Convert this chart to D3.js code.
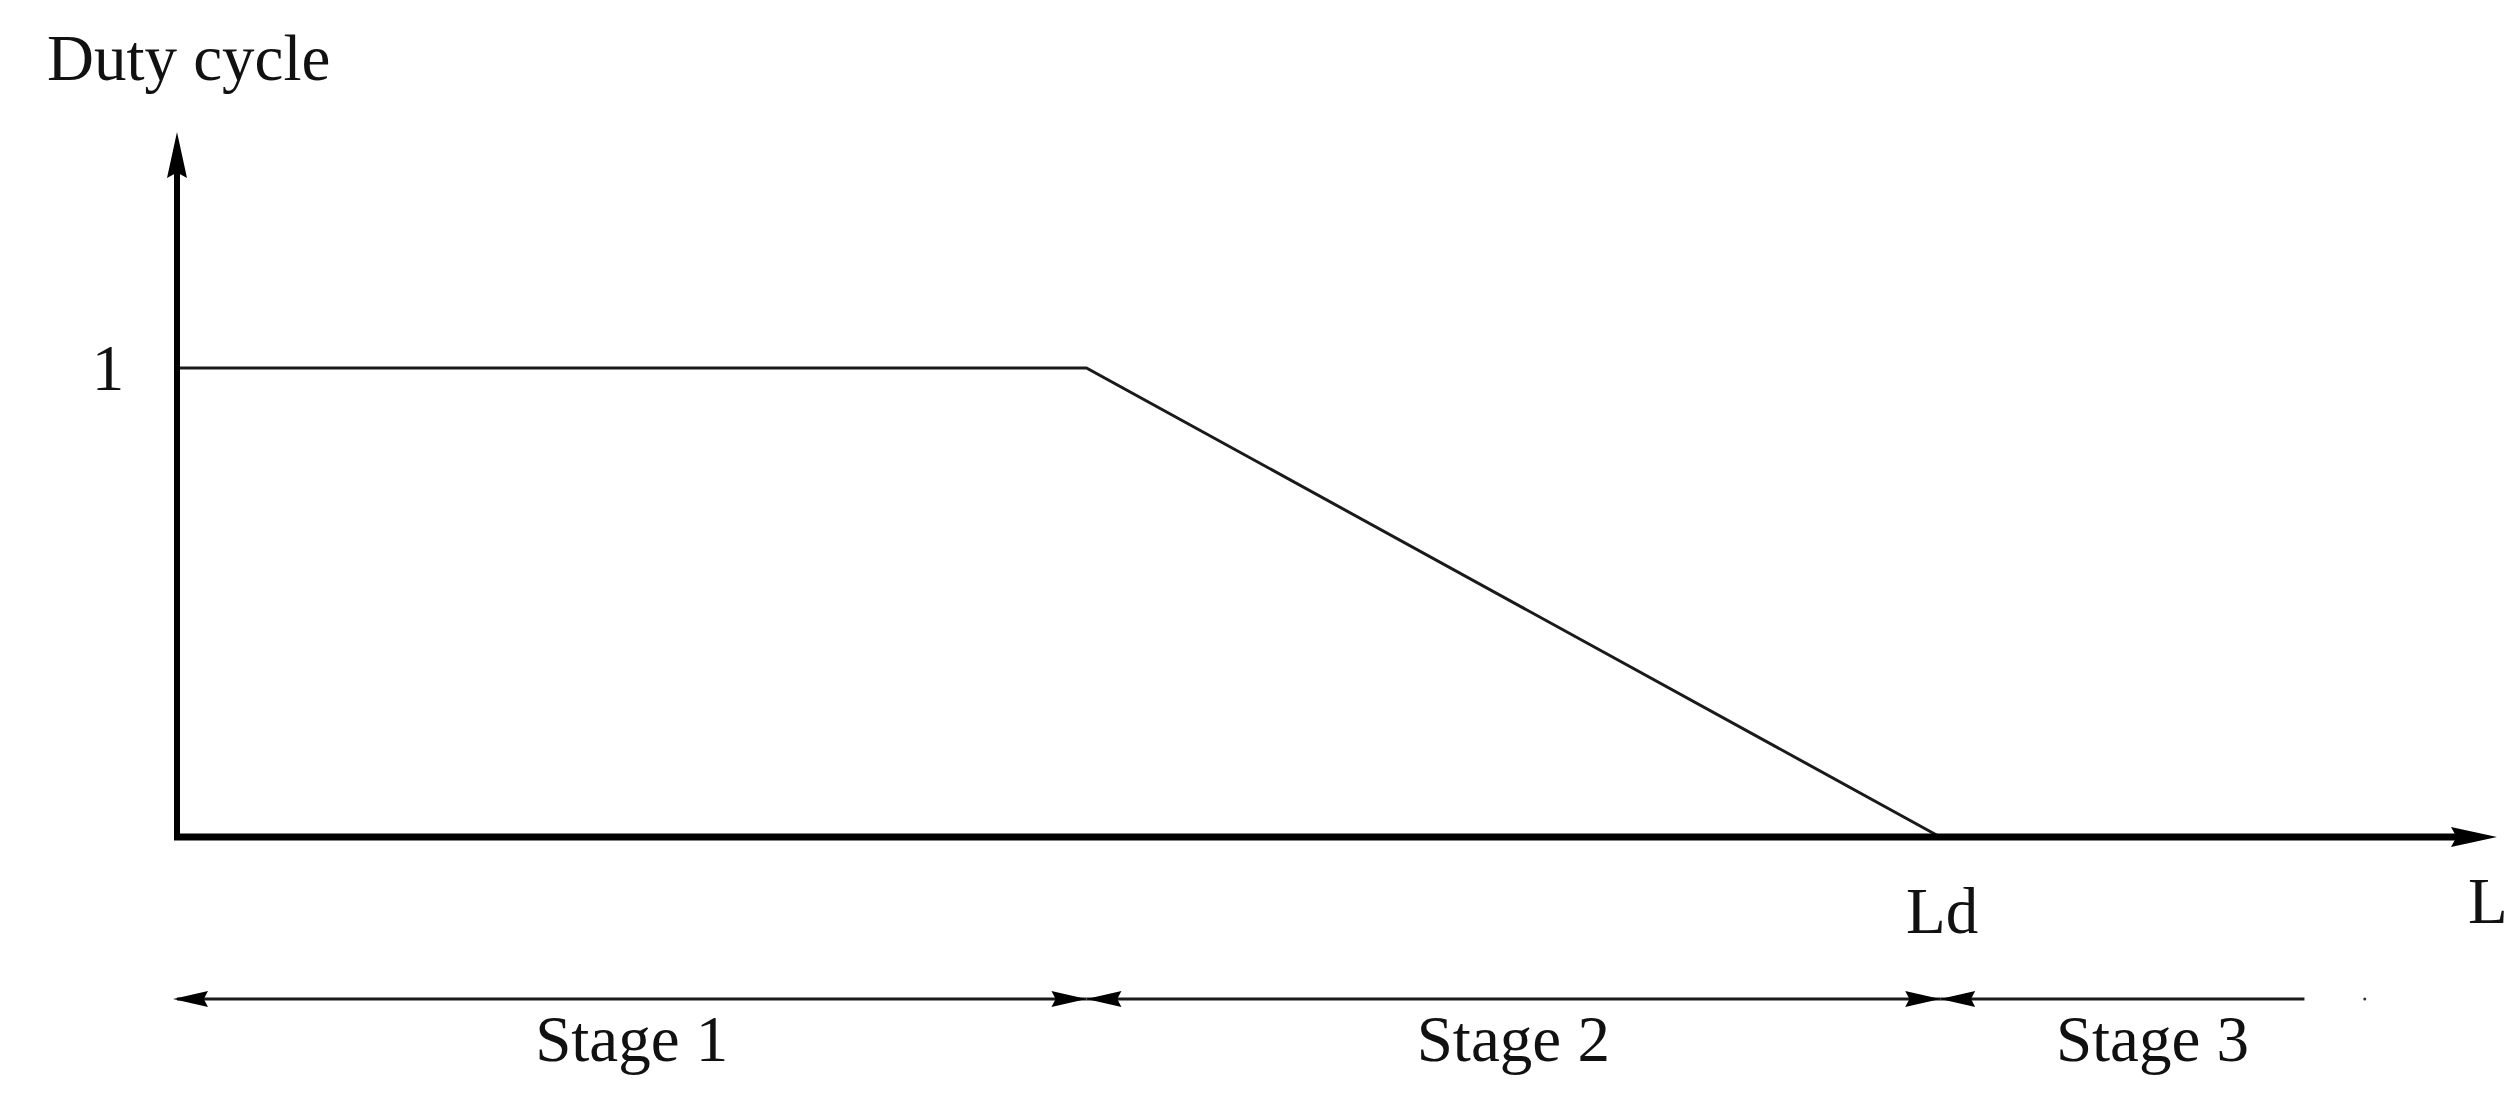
<!DOCTYPE html>
<html>
<head>
<meta charset="utf-8">
<script src="https://cdn.jsdelivr.net/npm/d3@7"></script>
<style>
  html, body { margin: 0; padding: 0; background: #fff; }
  svg { display: block; }
  text { font-family: "Liberation Serif", "Times New Roman", serif; fill: #111; }
</style>
</head>
<body>
<script>
// ---- data (x in arbitrary length units, 0..100 along L axis) ----
const curveX = [0, 39.2, 76.0];          // duty-cycle breakpoints
const curveY = [1, 1, 0];                // duty cycle values
const xAxisMax = 100;
const yAxisMax = 1.503;
const yTickValues = [1];
const yTickLabels = ["1"];
const xMarkValues = [76.0];
const xMarkLabels = ["Ld"];
const stageBounds = [0, 39.2, 76.0, 94.3];
const stageLineEnds = [39.2, 76.0, 91.7];
const stageLabels = ["Stage 1", "Stage 2", "Stage 3"];
const yAxisTitle = "Duty cycle";
const xAxisTitle = "L";

const W = 2518, H = 1109;
const svg = d3.select("body").append("svg").attr("width", W).attr("height", H);

const x = d3.scaleLinear().domain([0, xAxisMax]).range([177, 2497]);
const y = d3.scaleLinear().domain([0, yAxisMax]).range([837, 132]);

const FONT = 65;

// curve
const pts = curveX.map((v, i) => [v, curveY[i]]);
svg.append("path")
  .datum(pts)
  .attr("fill", "none")
  .attr("stroke", "#1a1a1a")
  .attr("stroke-width", 3)
  .attr("d", d3.line().x(d => x(d[0])).y(d => y(d[1])));

// helper: arrowhead polygon with tip at (tx,ty) pointing in direction (dx,dy)
function arrow(tx, ty, dx, dy, len, half) {
  const bx = tx - dx * len, by = ty - dy * len;
  const px = -dy, py = dx;
  const notch = 0.12 * len;
  const nx = tx - dx * (len - notch), ny = ty - dy * (len - notch);
  return [[tx, ty], [bx + px * half, by + py * half], [nx, ny], [bx - px * half, by - py * half]]
    .map(p => p.join(",")).join(" ");
}

// axes
const axisG = svg.append("g");
axisG.append("line")
  .attr("x1", x(0)).attr("y1", y(0))
  .attr("x2", x(0)).attr("y2", y(yAxisMax) + 30)
  .attr("stroke", "#000").attr("stroke-width", 6);
axisG.append("polygon")
  .attr("points", arrow(x(0), y(yAxisMax), 0, -1, 46, 10))
  .attr("fill", "#000");
axisG.append("line")
  .attr("x1", x(0) - 3).attr("y1", y(0))
  .attr("x2", x(xAxisMax) - 30).attr("y2", y(0))
  .attr("stroke", "#000").attr("stroke-width", 7);
axisG.append("polygon")
  .attr("points", arrow(x(xAxisMax), y(0), 1, 0, 46, 10))
  .attr("fill", "#000");

// y tick labels
svg.selectAll("text.ytick").data(yTickValues).enter().append("text")
  .attr("class", "ytick")
  .attr("x", 108).attr("y", d => y(d) + 22)
  .attr("text-anchor", "middle")
  .attr("font-size", FONT)
  .text((d, i) => yTickLabels[i]);

// x mark labels
svg.selectAll("text.xmark").data(xMarkValues).enter().append("text")
  .attr("class", "xmark")
  .attr("x", d => x(d) + 2).attr("y", 933)
  .attr("text-anchor", "middle")
  .attr("font-size", FONT)
  .text((d, i) => xMarkLabels[i]);

// axis titles
svg.append("text").attr("x", 47).attr("y", 80).attr("font-size", FONT).text(yAxisTitle);
svg.append("text").attr("x", 2468).attr("y", 923).attr("font-size", FONT).text(xAxisTitle);

// stage arrows
const stageY = 999;
const stageG = svg.append("g");
stageLabels.forEach((lab, i) => {
  const x0 = x(stageBounds[i]);
  const x1 = x(stageLineEnds[i]);
  stageG.append("line")
    .attr("x1", x0).attr("y1", stageY).attr("x2", x1).attr("y2", stageY)
    .attr("stroke", "#1a1a1a").attr("stroke-width", 3);
  stageG.append("polygon")
    .attr("points", arrow(x0 - (i === 0 ? 4 : 0), stageY, -1, 0, 35, 8))
    .attr("fill", "#000");
  if (i < 2) {
    stageG.append("polygon")
      .attr("points", arrow(x1, stageY, 1, 0, 35, 8))
      .attr("fill", "#000");
  }
  stageG.append("text")
    .attr("x", (x(stageBounds[i]) + x(stageBounds[i + 1])) / 2)
    .attr("y", 1061)
    .attr("text-anchor", "middle")
    .attr("font-size", FONT)
    .text(lab);
});
// small stray mark at the nominal end of stage 3
stageG.append("circle")
  .attr("cx", x(stageBounds[3])).attr("cy", stageY).attr("r", 1.5).attr("fill", "#333");
</script>
</body>
</html>
